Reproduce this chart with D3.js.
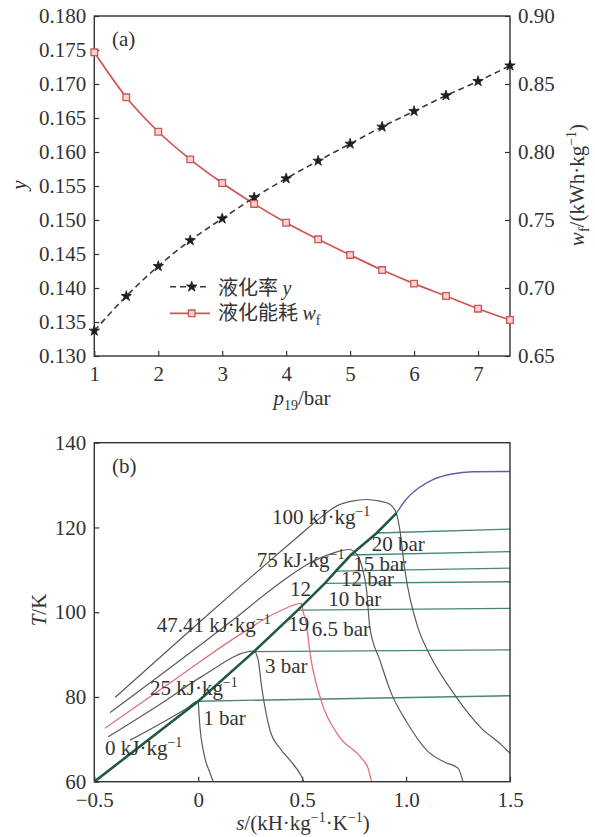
<!DOCTYPE html>
<html><head><meta charset="utf-8">
<script src="https://cdn.jsdelivr.net/npm/d3@7"></script>
<style>
body{margin:0;background:#fff}
svg{display:block}
text{font-family:"Liberation Serif","Times New Roman",serif;fill:#333}
</style></head><body>
<svg id="c" width="595" height="837"></svg>
<script>
// ---------- (a) data ----------
const pressure = [1,1.5,2,2.5,3,3.5,4,4.5,5,5.5,6,6.5,7,7.5];
const liquefactionRate = [0.1337,0.1388,0.1432,0.1470,0.1502,0.1533,0.1561,0.1587,0.1612,0.1637,0.1660,0.1683,0.1704,0.1727];
const energyUse = [0.8733,0.8402,0.8149,0.7946,0.7772,0.7618,0.7480,0.7358,0.7243,0.7132,0.7032,0.6941,0.6848,0.6765];
const yTicks = [0.130,0.135,0.140,0.145,0.150,0.155,0.160,0.165,0.170,0.175,0.180];
const wTicks = [0.65,0.70,0.75,0.80,0.85,0.90];
const pTicks = [1,2,3,4,5,6,7];

// ---------- (b) data ----------
const sTicks = [-0.5,0,0.5,1.0,1.5];
const sTickLabels = ["\u22120.5","0","0.5","1.0","1.5"];
const tTicks = [60,80,100,120,140];
const satLiquid = [[-0.5,60.0],[0.0,79.0],[0.268,90.7],[0.479,100.5],[0.609,106.8],[0.662,109.7],[0.734,113.5],[0.859,118.7],[0.954,123.4]];
const satUpper = [[0.954,123.4],[1.0,126.6],[1.06,129.3],[1.13,131.3],[1.22,132.6],[1.32,133.15],[1.5,133.2]];
const isobarNames = ["1 bar","3 bar","6.5 bar","10 bar","12 bar","15 bar","20 bar"];
const isobarStart = [[0.0,79.0],[0.268,90.7],[0.479,100.5],[0.609,106.8],[0.662,109.7],[0.734,113.5],[0.859,118.7]];
const isobarEnd = [[1.5,80.3],[1.5,91.1],[1.5,100.9],[1.5,107.2],[1.5,110.4],[1.5,114.3],[1.5,119.6]];
const h0 = [[-0.328,69.8],[-0.056,77.3],[0.0,79.0],[0.003,76.5],[0.010,72.0],[0.022,68.0],[0.035,65.0],[0.055,62.3],[0.072,60.0]];
const h25 = [[-0.433,70.6],[-0.152,79.3],[0.016,84.8],[0.268,90.8],[0.288,88.8],[0.305,82.4],[0.345,72.2],[0.393,67.9],[0.441,65.1],[0.497,61.2],[0.508,60.0]];
const h4741 = [[-0.449,72.6],[-0.104,84.4],[0.209,95.0],[0.385,100.1],[0.497,102.1],[0.503,100.5],[0.521,97.0],[0.537,90.7],[0.593,78.9],[0.673,71.0],[0.786,65.5],[0.817,63.2],[0.834,60.0]];
const h75 = [[-0.424,76.3],[0.168,98.2],[0.393,106.9],[0.537,111.6],[0.652,114.0],[0.725,114.8],[0.762,113.7],[0.787,110.9],[0.810,105.2],[0.826,96.3],[0.874,88.7],[0.926,81.2],[1.003,74.1],[1.106,67.1],[1.186,64.6],[1.25,63.2],[1.274,60.0]];
const h100 = [[-0.400,79.9],[0.0,97.4],[0.489,118.2],[0.585,122.2],[0.667,125.1],[0.739,126.2],[0.810,126.6],[0.874,126.2],[0.922,125.5],[0.954,123.2],[0.970,119.4],[0.994,110.0],[1.058,96.2],[1.106,90.7],[1.234,80.5],[1.363,72.6],[1.459,68.7],[1.5,66.7]];

const svg = d3.select("#c");
const SUP = -8, SUB = 5;
function rich(parent, x, y, parts, opt={}) {
  const t = parent.append("text").attr("x", x).attr("y", y).attr("font-size", opt.size || 21);
  if (opt.anchor) t.attr("text-anchor", opt.anchor);
  if (opt.transform) t.attr("transform", opt.transform);
  if (opt.fill) t.attr("fill", opt.fill);
  let shift = 0;
  parts.forEach(p => {
    const ts = t.append("tspan").text(p.t);
    const target = p.sup ? SUP : p.sub ? SUB : 0;
    if (target !== shift) { ts.attr("dy", target - shift); shift = target; }
    if (p.sup || p.sub) ts.attr("font-size", 14);
    if (p.it) ts.attr("font-style", "italic");
    if (p.font) ts.attr("font-family", p.font);
  });
  return t;
}
function styleAxis(g) {
  g.attr("font-size", 21).attr("font-family", '"Liberation Serif",serif');
  g.select(".domain").remove();
  g.selectAll(".tick line").attr("stroke", "#333").attr("stroke-width", 1.2);
  g.selectAll(".tick text").attr("fill", "#333");
}

// ================= (a) =================
const xA = d3.scaleLinear([1, 7.5], [94.3, 510]);
const yA = d3.scaleLinear([0.130, 0.180], [356, 16]);
const wA = d3.scaleLinear([0.65, 0.90], [356, 16]);
const gA = svg.append("g");

gA.append("g").attr("transform", "translate(94.3,0)")
  .call(d3.axisLeft(yA).tickValues(yTicks).tickFormat(d3.format(".3f")).tickSize(-5).tickPadding(8)).call(styleAxis);
gA.append("g").attr("transform", "translate(510,0)")
  .call(d3.axisRight(wA).tickValues(wTicks).tickFormat(d3.format(".2f")).tickSize(-5).tickPadding(8)).call(styleAxis);
gA.append("g").attr("transform", "translate(0,356)")
  .call(d3.axisBottom(xA).tickValues(pTicks).tickFormat(d3.format("d")).tickSize(-5).tickPadding(10)).call(styleAxis);
gA.append("rect").attr("x", 94.3).attr("y", 16).attr("width", 510 - 94.3).attr("height", 340)
  .attr("fill", "none").attr("stroke", "#333").attr("stroke-width", 1.4);

const lineY = d3.line().x((d, i) => xA(pressure[i])).y(d => yA(d)).curve(d3.curveMonotoneX);
const lineW = d3.line().x((d, i) => xA(pressure[i])).y(d => wA(d)).curve(d3.curveMonotoneX);
const RED = "#d05454";
gA.append("path").attr("d", lineW(energyUse)).attr("fill", "none").attr("stroke", RED).attr("stroke-width", 1.7);
gA.append("path").attr("d", lineY(liquefactionRate)).attr("fill", "none").attr("stroke", "#3a3a3a")
  .attr("stroke-width", 1.6).attr("stroke-dasharray", "6,4");
const star = d3.symbol(d3.symbolStar, 34)();
const square = d3.symbol(d3.symbolSquare, 44)();
gA.selectAll(".st").data(liquefactionRate).join("path")
  .attr("transform", (d, i) => `translate(${xA(pressure[i])},${yA(d)})`).attr("d", star)
  .attr("fill", "#1e1e1e").attr("stroke", "#1e1e1e").attr("stroke-width", 0.8).attr("stroke-linejoin", "round");
gA.selectAll(".sq").data(energyUse).join("path")
  .attr("transform", (d, i) => `translate(${xA(pressure[i])},${wA(d)})`).attr("d", square)
  .attr("fill", "#f6d2d2").attr("stroke", RED).attr("stroke-width", 1.3);

// legend
const lg = gA.append("g");
lg.append("line").attr("x1", 170).attr("x2", 210).attr("y1", 286.7).attr("y2", 286.7)
  .attr("stroke", "#3a3a3a").attr("stroke-width", 1.6).attr("stroke-dasharray", "6,4");
lg.append("path").attr("transform", "translate(191.7,286.7)").attr("d", star)
  .attr("fill", "#1e1e1e").attr("stroke", "#1e1e1e").attr("stroke-width", 0.8).attr("stroke-linejoin", "round");
lg.append("line").attr("x1", 170).attr("x2", 210).attr("y1", 313.3).attr("y2", 313.3)
  .attr("stroke", RED).attr("stroke-width", 1.7);
lg.append("path").attr("transform", "translate(191.7,313.3)").attr("d", square)
  .attr("fill", "#f6d2d2").attr("stroke", RED).attr("stroke-width", 1.3);
const CJK = '"Noto Sans CJK SC",sans-serif';
rich(lg, 218, 295, [{t: "液化率 ", font: CJK}, {t: "y", it: true}], {size: 20});
rich(lg, 218, 320, [{t: "液化能耗 ", font: CJK}, {t: "w", it: true}, {t: "f", sub: true}], {size: 20});

rich(gA, 112, 46, [{t: "(a)"}]);
rich(gA, 0, 0, [{t: "y", it: true}], {anchor: "middle", transform: "translate(26,185) rotate(-90)"});
rich(gA, 0, 0, [{t: "w", it: true}, {t: "f", sub: true}, {t: "/(kWh·kg"}, {t: "\u22121", sup: true}, {t: ")"}],
  {anchor: "middle", transform: "translate(584,185) rotate(-90)"});
rich(gA, 302, 405, [{t: "p", it: true}, {t: "19", sub: true}, {t: "/bar"}], {anchor: "middle"});

// ================= (b) =================
const xB = d3.scaleLinear([-0.5, 1.5], [94.3, 510]);
const yB = d3.scaleLinear([60, 140], [781.7, 442.7]);
const gB = svg.append("g");
svg.append("defs").append("clipPath").attr("id", "clipB").append("rect")
  .attr("x", 94.3).attr("y", 442.7).attr("width", 510 - 94.3).attr("height", 339);

gB.append("g").attr("transform", "translate(94.3,0)")
  .call(d3.axisLeft(yB).tickValues(tTicks).tickSize(-5).tickPadding(8)).call(styleAxis);
gB.append("g").attr("transform", "translate(0,781.7)")
  .call(d3.axisBottom(xB).tickValues(sTicks).tickFormat((d, i) => sTickLabels[i]).tickSize(-5).tickPadding(10)).call(styleAxis);

const plot = gB.append("g").attr("clip-path", "url(#clipB)");
const lineB = d3.line().x(d => xB(d[0])).y(d => yB(d[1])).curve(d3.curveMonotoneX);
const lineStraight = d3.line().x(d => xB(d[0])).y(d => yB(d[1]));
const GRAY = "#5a5a5a", ISO = "#47867a";

isobarStart.forEach((st, i) => {
  plot.append("path").attr("d", lineStraight([st, isobarEnd[i]])).attr("fill", "none")
    .attr("stroke", ISO).attr("stroke-width", 1.4);
});
[h0, h25, h75, h100].forEach(h => {
  plot.append("path").attr("d", lineB(h)).attr("fill", "none").attr("stroke", GRAY).attr("stroke-width", 1.2);
});
plot.append("path").attr("d", lineB(h4741)).attr("fill", "none").attr("stroke", "#e0707a").attr("stroke-width", 1.3);
plot.append("path").attr("d", lineB(satUpper)).attr("fill", "none").attr("stroke", "#5d60a8").attr("stroke-width", 1.4);
plot.append("path").attr("d", lineStraight(satLiquid)).attr("fill", "none").attr("stroke", "#1f5a40").attr("stroke-width", 2.6);

gB.append("rect").attr("x", 94.3).attr("y", 442.7).attr("width", 510 - 94.3).attr("height", 339)
  .attr("fill", "none").attr("stroke", "#333").attr("stroke-width", 1.4);

const kJ = (v) => [{t: v + " kJ·kg"}, {t: "\u22121", sup: true}];
rich(gB, 272, 524, kJ("100"));
rich(gB, 256.7, 567, kJ("75"));
rich(gB, 156.7, 632, kJ("47.41"));
rich(gB, 150, 695, kJ("25"));
rich(gB, 105, 755, kJ("0"));
const barPos = [[203.3, 725], [265, 673], [311.7, 636], [328.3, 606], [341, 586], [353.3, 571], [371.7, 551]];
isobarNames.forEach((n, i) => rich(gB, barPos[i][0], barPos[i][1], [{t: n}]));
rich(gB, 290, 596, [{t: "12"}], {fill: "#f01c1c"});
rich(gB, 288.3, 631, [{t: "19"}], {fill: "#f01c1c"});

rich(gB, 112, 473, [{t: "(b)"}]);
rich(gB, 0, 0, [{t: "T", it: true}, {t: "/K"}], {anchor: "middle", transform: "translate(46,610) rotate(-90)"});
rich(gB, 303, 830, [{t: "s", it: true}, {t: "/(kH·kg"}, {t: "\u22121", sup: true}, {t: "·K"}, {t: "\u22121", sup: true}, {t: ")"}], {anchor: "middle"});
</script>
</body></html>
